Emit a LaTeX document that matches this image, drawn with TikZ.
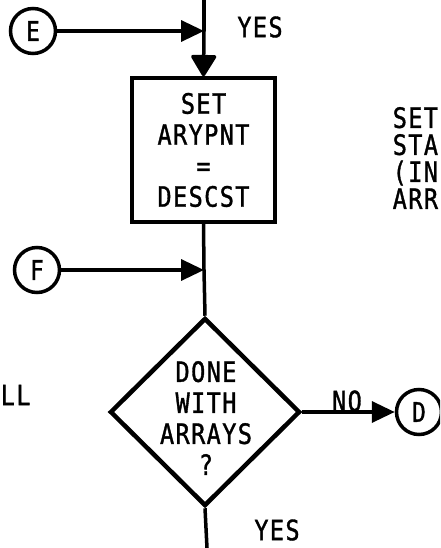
\documentclass[tikz,border=0pt]{standalone}
\usepackage{fontspec}
\newfontfamily\lett[FakeStretch=0.84,LetterSpace=5,FakeBold=1.2]{DejaVu Sans Mono}
\usetikzlibrary{arrows.meta,shapes.geometric}
\begin{document}
\begin{tikzpicture}[x=1pt,y=-1pt,line width=3.5pt,
  txt/.style={font=\lett\fontsize{28}{31}\selectfont, inner sep=0pt, align=center},
  conn/.style={circle, draw, minimum size=45pt, inner sep=0pt, font=\lett\fontsize{27}{30}\selectfont},
  procbox/.style={draw, minimum width=143pt, minimum height=144pt, inner sep=0pt, align=center, font=\lett\fontsize{28}{31}\selectfont},
  decision/.style={diamond, draw, line width=4.5pt, minimum width=190pt, minimum height=188pt, inner sep=0pt},
  flow/.style={-{Triangle[length=23pt,width=21pt]}},
  flowdown/.style={-{Triangle[length=23pt,width=27pt,round]}}
  ]
\useasboundingbox (0,0) rectangle (440,548);
\clip (0,0) rectangle (440,548);
% nodes
\node[conn] (E) at (33,31) {E};
\node[procbox] (box) at (203.5,150) {SET\\ARYPNT\\=\\DESCST};
\node[conn] (F) at (37,270) {F};
\node[decision] (dia) at (205,412) {};
\node[txt] (diatext) at (206,418) {DONE\\WITH\\ARRAYS\\?};
\node[conn] (D) at (419,412) {D};
% coordinates
\coordinate (top) at (204,0);
\coordinate (jE) at (204,31);
\coordinate (jF) at (204,270);
\coordinate (bot) at (207,548);
% labels
\node[txt] (yes1) at (260,27) {YES};
\node[txt] (yes2) at (277,530) {YES};
\node[txt] (no) at (347,401) {NO};
\node[txt, anchor=west] (ll) at (-1,395) {LL};
\node[font=\lett\fontsize{28}{27}\selectfont, inner sep=0pt, align=left, anchor=west] (side) at (391,158) {SET\\STA\\(IN\\ARR};
% connectors
\draw (top) -- (jE);
\draw[flow] (E) -- (jE);
\draw[flowdown] (jE) -- (box.north);
\draw (box.south) -- (jF) -- (dia.north);
\draw[flow] (F) -- (jF);
\draw (dia.south) -- (bot);
\draw[flow] (dia.east) -- (D);
\end{tikzpicture}
\end{document}
